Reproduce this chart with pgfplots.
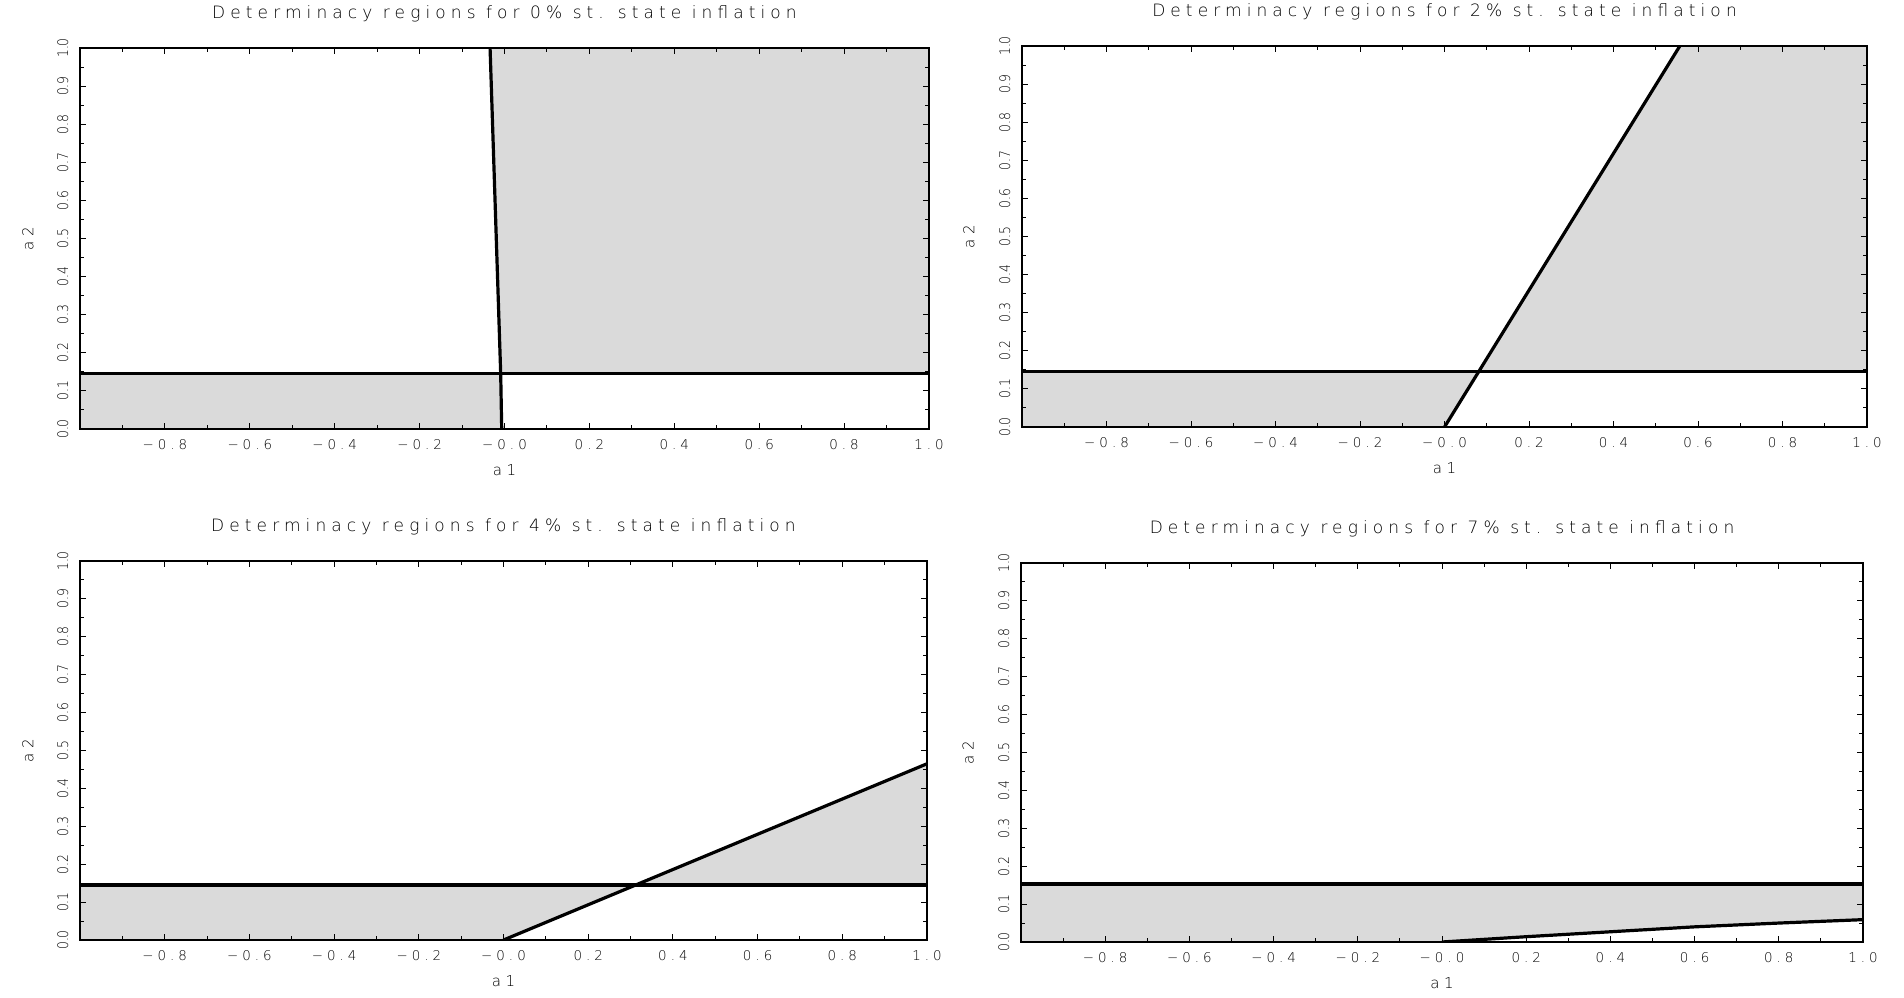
\documentclass[border=0pt]{standalone}
\usepackage{fontspec}
\setmainfont{DejaVu Sans ExtraLight}[LetterSpace=30]
\newfontfamily\xtickfont{DejaVu Sans ExtraLight}[LetterSpace=30]
\newfontfamily\ytickfont{DejaVu Sans ExtraLight}[FakeStretch=0.85]
\usepackage{pgfplots}
\pgfplotsset{compat=1.18}
\definecolor{shade}{RGB}{218,218,218}
\pgfplotsset{
  detstyle/.style={
    scale only axis,
    xmin=-1, xmax=1, ymin=0, ymax=1,
    xtick={-1,-0.8,-0.6,-0.4,-0.2,0,0.2,0.4,0.6,0.8,1.0},
    xticklabels={,−0.8,−0.6,−0.4,−0.2,−0.0,0.2,0.4,0.6,0.8,1.0},
    ytick={0,0.1,0.2,0.3,0.4,0.5,0.6,0.7,0.8,0.9,1.0},
    yticklabels={0.0,0.1,0.2,0.3,0.4,0.5,0.6,0.7,0.8,0.9,1.0},
    minor x tick num=1, minor y tick num=1,
    tick align=inside, tick pos=both,
    major tick length=3pt, minor tick length=2pt,
    every tick/.style={black, line width=0.5pt},
    axis line style={line width=1.3pt},
    axis on top,
    title style={at={(0.5,1)}, anchor=center, yshift=11pt, font=\fontsize{8.5}{10}\selectfont},
    xlabel style={at={(0.5,0)}, anchor=center, yshift=-20.5pt, font=\fontsize{7.5}{9}\selectfont},
    ylabel style={anchor=center, font=\fontsize{7.5}{9}\selectfont},
    xticklabel style={font=\xtickfont\fontsize{6.7}{8}\selectfont, inner ysep=5pt},
    yticklabel style={rotate=90, anchor=south, font=\ytickfont\fontsize{7.3}{9}\selectfont, inner ysep=5.6pt},
    xlabel={a1}, ylabel={a2},
  },
  fillst/.style={draw=none, fill=shade, forget plot},
  linest/.style={black, line width=1.6pt, no marks},
}
\begin{document}
\begin{tikzpicture}
\path[use as bounding box] (0,0) rectangle (952pt,498.5pt);
% Panel 1: 0%
\begin{axis}[detstyle, at={(40pt,284pt)}, anchor=south west, width=424.5pt, height=190.5pt,
  title={Determinacy regions for 0\% st. state inflation},
  ylabel style={at={(axis description cs:-0.0612,0.5)}}]
\addplot[fillst] coordinates {(-0.034,1) (1,1) (1,0.146) (-0.009,0.146)};
\addplot[fillst] coordinates {(-1,0) (-0.0066,0) (-0.009,0.146) (-1,0.146)};
\addplot[linest] coordinates {(-1,0.146) (1,0.146)};
\addplot[linest] coordinates {(-0.034,1) (-0.009,0.146) (-0.0066,0)};
\end{axis}
% Panel 2: 2%
\begin{axis}[detstyle, at={(511pt,285pt)}, anchor=south west, width=422.5pt, height=190.5pt,
  title={Determinacy regions for 2\% st. state inflation},
  ylabel style={at={(axis description cs:-0.0627,0.5)}}]
\addplot[fillst] coordinates {(-1,0) (0,0) (0.0808,0.145) (-1,0.145)};
\addplot[fillst] coordinates {(0.0808,0.145) (0.557,1) (1,1) (1,0.145)};
\addplot[linest] coordinates {(-1,0.145) (1,0.145)};
\addplot[linest] coordinates {(0,0) (0.557,1)};
\end{axis}
% Panel 3: 4%
\begin{axis}[detstyle, at={(40pt,28.5pt)}, anchor=south west, width=423.5pt, height=189.5pt,
  title={Determinacy regions for 4\% st. state inflation},
  ylabel style={at={(axis description cs:-0.0614,0.5)}}]
\addplot[fillst] coordinates {(-1,0) (0,0) (0.312,0.145) (-1,0.145)};
\addplot[fillst] coordinates {(0.312,0.145) (1,0.465) (1,0.145)};
\addplot[linest] coordinates {(-1,0.145) (1,0.145)};
\addplot[linest] coordinates {(0,0) (1,0.465)};
\end{axis}
% Panel 4: 7%
\begin{axis}[detstyle, at={(510.5pt,27.5pt)}, anchor=south west, width=421pt, height=189.5pt,
  title={Determinacy regions for 7\% st. state inflation},
  ylabel style={at={(axis description cs:-0.0629,0.5)}}]
\addplot[fillst] coordinates {(-1,0) (0,0) (0.2,0.014) (0.4,0.027) (0.6,0.040) (0.8,0.050) (1,0.059) (1,0.153) (-1,0.153)};
\addplot[linest] coordinates {(-1,0.153) (1,0.153)};
\addplot[linest] coordinates {(0,0) (0.2,0.014) (0.4,0.027) (0.6,0.040) (0.8,0.050) (1,0.059)};
\end{axis}
\end{tikzpicture}
\end{document}
